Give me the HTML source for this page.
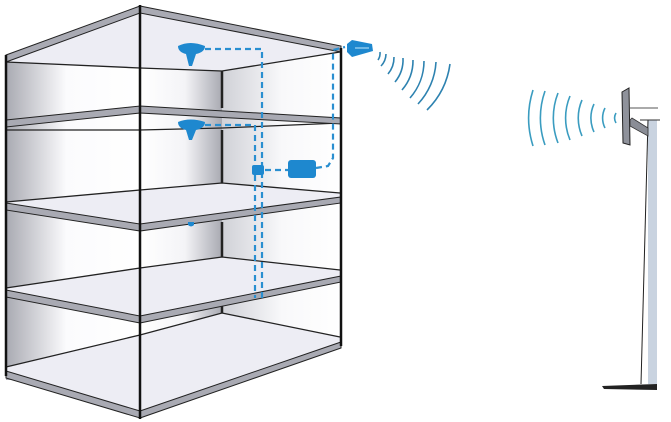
<!DOCTYPE html>
<html><head><meta charset="utf-8"><style>html,body{margin:0;padding:0;background:#fff;width:671px;height:422px;overflow:hidden}</style></head>
<body>
<svg width="671" height="422" viewBox="0 0 671 422" xmlns="http://www.w3.org/2000/svg">
<defs>
<linearGradient id="gl" x1="0" x2="1" y1="0" y2="0"><stop offset="0" stop-color="#a9aab2"/><stop offset="0.45" stop-color="#fbfbfd"/><stop offset="1" stop-color="#fff"/></linearGradient>
<linearGradient id="gm" x1="0" x2="1" y1="0" y2="0"><stop offset="0" stop-color="#fff"/><stop offset="0.55" stop-color="#f4f4f7"/><stop offset="1" stop-color="#a9aab2"/></linearGradient>
<linearGradient id="gr" x1="0" x2="1" y1="0" y2="0"><stop offset="0" stop-color="#d0d1d7"/><stop offset="0.5" stop-color="#f8f8fa"/><stop offset="1" stop-color="#fff"/></linearGradient>
</defs>
<!-- walls -->
<polygon points="6,55 140,6 341,48 341,345 140,413 6,372" fill="#fff"/>
<rect x="6" y="60" width="134" height="320" fill="url(#gl)"/>
<rect x="140" y="68" width="82" height="270" fill="url(#gm)"/>
<rect x="222" y="55" width="119" height="285" fill="url(#gr)"/>
<!-- ceiling -->
<polygon points="6,55 140,6 341,48 340,52 222,71 140,68 6,62" fill="#ededf4"/>
<!-- floors surfaces -->
<polygon points="6,202 140,190 222,183 340,193 340,198 140,225 6,205" fill="#ededf4"/>
<polygon points="6,288 140,268 222,257 340,270 340,277 140,317 6,290" fill="#ededf4"/>
<polygon points="6,367 140,335 222,313 340,337 340,343 140,413 6,372" fill="#ededf4"/>
<polygon points="6,120 140,106 340,118 340,123 140,112 6,126" fill="#ededf4"/>
<g fill="none" stroke="#222" stroke-width="1.3">
<polyline points="6,62 140,68 222,71 340,52"/>
<polyline points="6,130 140,130 222,128 340,123"/>
<polyline points="6,202 140,190 222,183 340,193"/>
<polyline points="6,288 140,268 222,257 340,270"/>
<polyline points="6,367 140,335 222,313 340,337"/>
</g>
<!-- slabs -->
<g fill="#a9aab3" stroke="#222" stroke-width="1">
<polygon points="6,55 140,6 140,13 6,62"/>
<polygon points="140,6 341,46 341,52 140,13"/>
<polygon points="6,120 140,106 140,113 6,127"/>
<polygon points="140,106 341,118 341,124 140,113"/>
<polygon points="6,203 140,224 140,231 6,210"/>
<polygon points="140,224 341,197 341,203 140,231"/>
<polygon points="6,290 140,316 140,323 6,297"/>
<polygon points="140,316 341,276 341,282 140,323"/>
<polygon points="6,371 140,411 140,418 6,378"/>
<polygon points="140,411 341,342 341,348 140,418"/>
</g>
<!-- verticals -->
<g stroke="#111" stroke-width="2.5">
<line x1="6" y1="55" x2="6" y2="376"/>
<line x1="140" y1="5" x2="140" y2="419"/>
<line x1="341" y1="48" x2="341" y2="346"/>
</g>
<g stroke="#222" stroke-width="2.5">
<line x1="222" y1="71" x2="222" y2="108"/>
<line x1="222" y1="130" x2="222" y2="183"/>
<line x1="222" y1="222" x2="222" y2="257"/>
<line x1="222" y1="306" x2="222" y2="313"/>
</g>
<!-- cables -->
<g fill="none" stroke="#2a8fd0" stroke-width="2.2" stroke-dasharray="6,4">
<polyline points="205,49 262,49 262,300"/>
<polyline points="205,125 255,125 255,298"/>
<polyline points="265,170 290,170"/>
<polyline points="316,168 328,166 333,158 333,50 345,47"/>
</g>
<g fill="#1e88cf">
<path d="M178,46 Q190,40 205,46 Q205,52 196,54 L192,66 L189,66 L186,54 Q178,52 178,46Z"/>
<path d="M178,122 Q190,117 205,122 Q205,128 196,130 L192,140 L189,140 L186,130 Q178,128 178,122Z"/>
<rect x="252" y="165" width="12" height="10" rx="2"/>
<rect x="288" y="160" width="28" height="18" rx="3"/>
<path d="M188,222 h6 v3 q-3,3 -6,0z"/>
<path d="M347,44 L352,40 L372,44 L373,51 L352,57 L347,52Z"/>
</g>
<line x1="355" y1="48" x2="369" y2="48" stroke="#8cc8ec" stroke-width="1.5"/>
<!-- signals left -->
<g fill="none" stroke="#2d82b0" stroke-width="1.6">
<path d="M380,52 A12,12 0 0 1 378,60"/>
<path d="M386,54 A18,18 0 0 1 381,66"/>
<path d="M394,57 A26,26 0 0 1 388,74"/>
<path d="M403,58 A35,35 0 0 1 395,82"/>
<path d="M413,60 A45,45 0 0 1 402,90"/>
<path d="M424,61 A56,56 0 0 1 410,98"/>
<path d="M436,62 A67,67 0 0 1 418,104"/>
<path d="M450,64 A80,80 0 0 1 427,110"/>
</g>
<!-- signals right -->
<g fill="none" stroke="#3a9cc0" stroke-width="1.6">
<path d="M616,113 A10,10 0 0 0 616,123"/>
<path d="M605,108 A22,22 0 0 0 605,128"/>
<path d="M594,104 A33,33 0 0 0 594,132"/>
<path d="M582,100 A45,45 0 0 0 582,136"/>
<path d="M570,96 A57,57 0 0 0 570,140"/>
<path d="M558,93 A69,69 0 0 0 558,143"/>
<path d="M545,91 A81,81 0 0 0 545,145"/>
<path d="M533,90 A93,93 0 0 0 533,146"/>
</g>
<!-- pole -->
<rect x="648" y="120" width="9" height="264" fill="#c9d3e0"/>
<line x1="648" y1="120" x2="641" y2="384" stroke="#222" stroke-width="1"/>
<line x1="640" y1="120" x2="660" y2="120" stroke="#333" stroke-width="1"/>
<line x1="630" y1="108" x2="658" y2="108" stroke="#555" stroke-width="1"/>
<polygon points="630,120 632,118 648,128 648,136 630,126" fill="#8a8d96" stroke="#333" stroke-width="0.8"/>
<polygon points="622,92 629,88 630,145 623,143" fill="#8f929b" stroke="#222" stroke-width="1"/>
<polygon points="602,386 657,384 657,390 604,389" fill="#222"/>
</svg>
</body></html>
